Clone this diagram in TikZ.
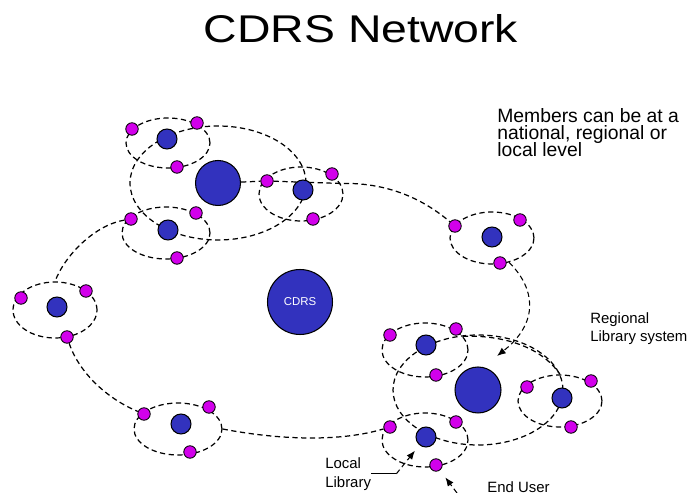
\documentclass[tikz,border=0pt]{standalone}
\usepackage{fontspec}
\setmainfont{Liberation Sans}
\usetikzlibrary{shapes.geometric,arrows.meta,backgrounds}

\definecolor{libblue}{RGB}{50,50,190}
\definecolor{usermag}{RGB}{210,0,235}
\lineskiplimit=-20pt

\begin{document}
\begin{tikzpicture}[x=0.02cm,y=-0.02cm,
  net/.style={dash pattern=on 3pt off 2pt,line width=0.7pt},
  local/.style={ellipse,draw,net,inner sep=0pt},
  hub/.style={circle,draw,fill=libblue,line width=0.6pt,inner sep=0pt,minimum size=0.9cm},
  lib/.style={circle,draw,fill=libblue,line width=0.6pt,inner sep=0pt,minimum size=0.4cm},
  user/.style={circle,draw,fill=usermag,line width=0.5pt,inner sep=0pt,minimum size=0.25cm},
  lbl/.style={inner sep=0pt,align=left,anchor=north west},
  pointer/.style={-{Latex[length=5pt,width=4pt]},line width=0.6pt}]
  \useasboundingbox (0,0) rectangle (687,493);

  \node[font=\fontsize{22}{26}\selectfont,xscale=1.2] (title) at (361,29) {CDRS Network};

  % regional systems and local libraries
  \node[local,minimum width=3.52cm,minimum height=2.28cm] (regTL) at (218,183) {};
  \node[local,minimum width=3.4cm,minimum height=2.2cm] (regBR) at (478,390) {};
  \node[local,minimum width=1.68cm,minimum height=1.0cm] (clA) at (168,143) {};
  \node[local,minimum width=1.76cm,minimum height=1.04cm] (clB) at (166,233) {};
  \node[local,minimum width=1.68cm,minimum height=1.08cm] (clC) at (301,194) {};
  \node[local,minimum width=1.68cm,minimum height=1.04cm] (clTR) at (492,238) {};
  \node[local,minimum width=1.68cm,minimum height=1.12cm] (clL) at (55,310) {};
  \node[local,minimum width=1.76cm,minimum height=1.04cm] (clBot) at (178,429) {};
  \node[local,minimum width=1.72cm,minimum height=1.08cm] (clD) at (425,350) {};
  \node[local,minimum width=1.68cm,minimum height=1.04cm] (clE) at (560,401) {};
  \node[local,minimum width=1.72cm,minimum height=1.08cm] (clF) at (425,440) {};

  \node[circle,draw,fill=libblue,line width=0.6pt,minimum size=1.3cm,inner sep=0pt,
    text=white,font=\fontsize{6.5}{8}\selectfont] (cdrs) at (300,302) {CDRS};

  \node[hub] (hubTL) at (218,183) {};
  \node[hub,minimum size=0.92cm] (hubBR) at (478,390) {};

  \foreach \n/\x/\y in {libA/167/139,libB/168/230,libC/303/190,libTR/492/237,
      libL/57/307,libBot/181/424,libD/426/345,libE/562/398,libF/426/437}
    \node[lib] (\n) at (\x,\y) {};

  \foreach \n/\x/\y in {uA1/132/129,uA2/197/123,uA3/177/167,
      uB1/131/219,uB2/196/213,uB3/177/258,
      uC1/267/181,uC2/332/174,uC3/313/219,
      uTR1/455/226,uTR2/520/220,uTR3/500/263,
      uL1/21/298,uL2/86/291,uL3/67/337,
      uBot1/144/414,uBot2/209/407,uBot3/190/452,
      uD1/390/335,uD2/456/329,uD3/436/375,
      uE1/527/387,uE2/591/381,uE3/571/427,
      uF1/390/427,uF2/456/422,uF3/436/465}
    \node[user] (\n) at (\x,\y) {};

  \coordinate (regTip) at (497,356);
  \coordinate (userTail) at (457,493);

  \node[lbl,font=\fontsize{11}{9.6}\selectfont] (members) at (497,108)
    {Members can be at a\\national, regional or\\local level};
  \node[lbl,font=\fontsize{8.5}{10.2}\selectfont] (reglbl) at (590,312)
    {Regional\\Library system};
  \node[lbl,font=\fontsize{8.5}{10.8}\selectfont] (locallbl) at (325,457)
    {Local\\Library};
  \node[lbl,font=\fontsize{8.5}{10}\selectfont] (userlbl) at (487,481) {End User};

  \begin{pgfonlayer}{background}
  % the network ring
  \draw[net] (hubTL) -- (uC1) -- (clC.15) .. controls (395,182) and (430,205) .. (uTR1);
  \draw[net,pointer] (clTR.-55) .. controls (535,288) and (540,322) .. (regTip);
  \draw[net] (uB1) .. controls (95,225) and (65,255) .. (clL.north);
  \draw[net] (uL3) .. controls (80,375) and (110,400) .. (uBot1);
  \draw[net] (clBot.east) .. controls (280,440) and (340,442) .. (uF1);
  \draw[net] (clD.20) .. controls (500,335) and (540,345) .. (clE.north);
  %\draw[net] (hubBR) -- (libE);
  \end{pgfonlayer}

  \draw[line width=0.6pt] (locallbl.east) -- ++(25,0) coordinate (localBend);
  \draw[net,pointer,shorten >=4pt] (localBend) -- (libF);
  \draw[net,pointer,shorten >=5pt] (userTail) -- (uF3);
\end{tikzpicture}
\end{document}
